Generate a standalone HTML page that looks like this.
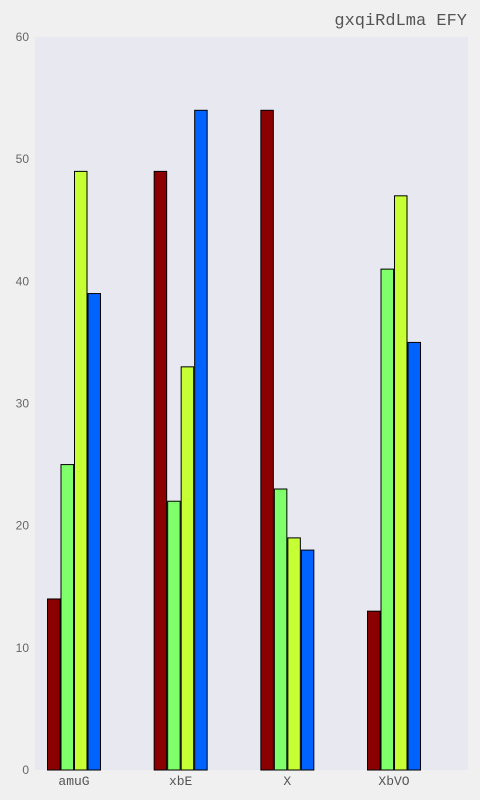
<!DOCTYPE html>
<html><head><meta charset="utf-8"><style>
html,body{margin:0;padding:0;background:#f0f0f0;width:480px;height:800px;overflow:hidden}
</style></head><body>
<svg id="chart" width="480" height="800" xmlns="http://www.w3.org/2000/svg">
<rect width="480" height="800" fill="#f0f0f0"/>
<rect x="35" y="37" width="433" height="733" fill="#e8e8f0"/>
<text x="467" y="25" text-anchor="end" font-family="Liberation Mono, monospace" font-size="17" fill="#555">gxqiRdLma EFY</text>
<g id="axes"></g><g id="bars"></g>
</svg>
<script>
const categories = ["amuG","xbE","X","XbVO"];
const series1 = [14,49,54,13];
const series2 = [25,22,23,41];
const series3 = [49,33,19,47];
const series4 = [39,54,18,35];
const yTicks = [0,10,20,30,40,50,60];
const colors = ["#8b0000","#7fff6a","#c6ff33","#0062ff"];
const NS="http://www.w3.org/2000/svg";
const top0=37,bot=770,yMax=60;
function y(v){return bot-(bot-top0)*v/yMax;}
function xc(i){return 74+i*106.67;}
const axes=document.getElementById('axes'),bars=document.getElementById('bars');
yTicks.forEach(t=>{
 const tx=document.createElementNS(NS,'text');
 
 
 tx.setAttribute('x',29);tx.setAttribute('y',y(t)+4);tx.setAttribute('text-anchor','end');
 tx.setAttribute('font-family','Liberation Sans, sans-serif');tx.setAttribute('font-size','12');tx.setAttribute('fill','#666');
 tx.textContent=t;axes.appendChild(tx);
});
categories.forEach((c,i)=>{
 const tx=document.createElementNS(NS,'text');
 
 
 tx.setAttribute('x',xc(i));tx.setAttribute('y',785);tx.setAttribute('text-anchor','middle');
 tx.setAttribute('font-family','Liberation Mono, monospace');tx.setAttribute('font-size','13');tx.setAttribute('fill','#555');
 tx.textContent=c;axes.appendChild(tx);
});
const all=[series1,series2,series3,series4];const bw=13.5;
all.forEach((s,k)=>{s.forEach((v,i)=>{
 const r=document.createElementNS(NS,'rect');
 
 
 r.setAttribute('x',xc(i)-27+k*bw+0.5);r.setAttribute('y',y(v));
 r.setAttribute('width',bw-1);r.setAttribute('height',bot-y(v));
 r.setAttribute('fill',colors[k]);r.setAttribute('stroke','#000');r.setAttribute('stroke-width','1');
 bars.appendChild(r);
});});
</script>
</body></html>
